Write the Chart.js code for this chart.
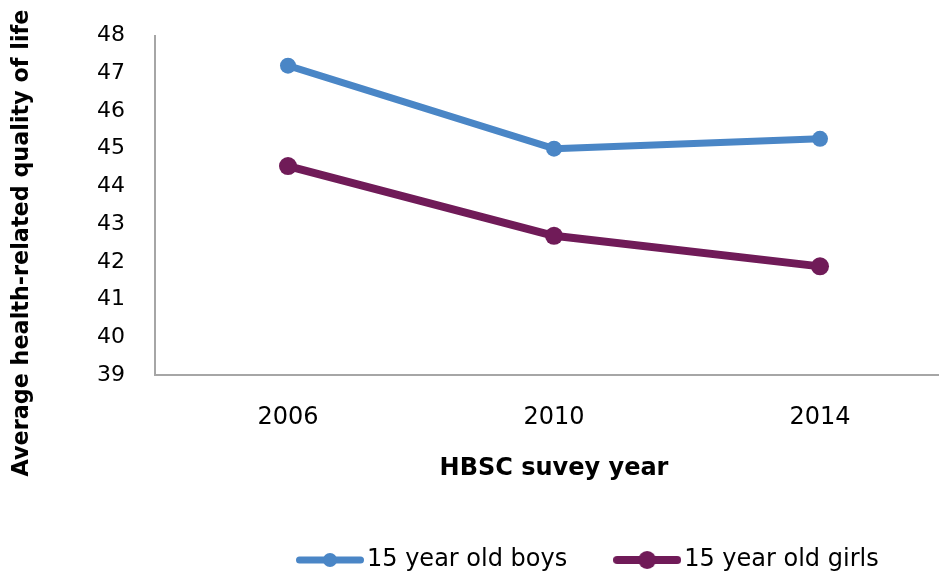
<!DOCTYPE html>
<html>
<head>
<meta charset="utf-8">
<script src="https://cdn.jsdelivr.net/npm/chart.js@4.4.1/dist/chart.umd.min.js"></script>
<style>
  html, body { margin: 0; padding: 0; background: #fff; overflow: hidden; }
  #chart { display: block; }
</style>
</head>
<body>
<canvas id="chart" width="953" height="579"></canvas>
<script>
const years = ["2006", "2010", "2014"]
const boys = [47.2, 45.0, 45.26]
const girls = [44.54, 42.69, 41.88]
const yMin = 39
const yMax = 48

const seriesNames = ["15 year old boys", "15 year old girls"]
const xTitle = "HBSC suvey year"
const yTitle = "Average health-related quality of life"

const FONT = "'DejaVu Sans', sans-serif"
const BLUE = "#4a86c6"
const PLUM = "#701b58"
const AXIS = "#a6a6a6"

// line-with-dot swatch used as the legend point style
function legendMarker(color, lineWidth, radius) {
  const c = document.createElement("canvas")
  c.width = 68
  c.height = 20
  const g = c.getContext("2d")
  g.strokeStyle = color
  g.lineWidth = lineWidth
  g.lineCap = "round"
  g.beginPath()
  g.moveTo(lineWidth / 2, 10)
  g.lineTo(68 - lineWidth / 2, 10)
  g.stroke()
  g.fillStyle = color
  g.beginPath()
  g.arc(34, 10, radius, 0, Math.PI * 2)
  g.fill()
  return c
}

const markers = [legendMarker(BLUE, 7, 7), legendMarker(PLUM, 8, 9)]

// fixed axis box sizes, no extra room for overhanging tick labels
function pinScale(s, size) {
  if (s.isHorizontal()) s.height = size
  else s.width = size
  s.paddingTop = s.paddingBottom = s.paddingLeft = s.paddingRight = 0
}

// legend sits right of centre; the value title is centred on the whole figure
const tweaks = {
  id: "tweaks",
  afterLayout(chart) {
    const lg = chart.legend
    lg.left += 250
    lg.right += 250
    lg.top += 3
    lg.bottom += 3
  },
  afterDraw(chart) {
    const ctx = chart.ctx
    ctx.save()
    ctx.translate(22, 243)
    ctx.rotate(-Math.PI / 2)
    ctx.font = "bold 22.3px " + FONT
    ctx.fillStyle = "#000"
    ctx.textAlign = "center"
    ctx.textBaseline = "middle"
    ctx.fillText(yTitle, 0, 0)
    ctx.restore()
  }
}

new Chart(document.getElementById("chart"), {
  type: "line",
  data: {
    labels: years,
    datasets: [
      {
        label: seriesNames[0],
        data: boys,
        borderColor: BLUE,
        backgroundColor: BLUE,
        borderWidth: 7,
        pointRadius: 8,
        pointBackgroundColor: BLUE,
        pointBorderWidth: 0,
        borderJoinStyle: "round",
        tension: 0
      },
      {
        label: seriesNames[1],
        data: girls,
        borderColor: PLUM,
        backgroundColor: PLUM,
        borderWidth: 8,
        pointRadius: 9,
        pointBackgroundColor: PLUM,
        pointBorderWidth: 0,
        borderJoinStyle: "round",
        tension: 0
      }
    ]
  },
  options: {
    responsive: false,
    animation: false,
    devicePixelRatio: 1,
    layout: { autoPadding: false, padding: { top: 35.5, left: 0, right: 0, bottom: 0 } },
    plugins: {
      tooltip: { enabled: false },
      legend: {
        position: "bottom",
        align: "start",
        labels: {
          usePointStyle: true,
          pointStyleWidth: 50,
          padding: 55,
          color: "#000",
          font: { family: FONT, size: 24 },
          generateLabels: (chart) => chart.data.datasets.map((ds, i) => ({
            text: ds.label,
            pointStyle: markers[i],
            fillStyle: ds.borderColor,
            strokeStyle: ds.borderColor,
            lineWidth: 0,
            fontColor: "#000",
            hidden: false,
            datasetIndex: i
          }))
        }
      }
    },
    scales: {
      x: {
        type: "category",
        offset: true,
        grid: { display: false, drawTicks: false },
        border: { display: true, color: AXIS, width: 2 },
        ticks: { color: "#000", padding: 28, maxRotation: 0, font: { family: FONT, size: 24 } },
        title: {
          display: true,
          text: xTitle,
          color: "#000",
          padding: { top: 0, bottom: 7 },
          font: { family: FONT, size: 24, weight: "bold" }
        },
        afterFit: (s) => pinScale(s, 115)
      },
      y: {
        min: yMin,
        max: yMax,
        grid: { display: false, drawTicks: false },
        border: { display: true, color: AXIS, width: 2 },
        ticks: { stepSize: 1, color: "#000", padding: 30, font: { family: FONT, size: 22 } },
        afterFit: (s) => pinScale(s, 155)
      }
    }
  },
  plugins: [tweaks]
})
</script>
</body>
</html>
